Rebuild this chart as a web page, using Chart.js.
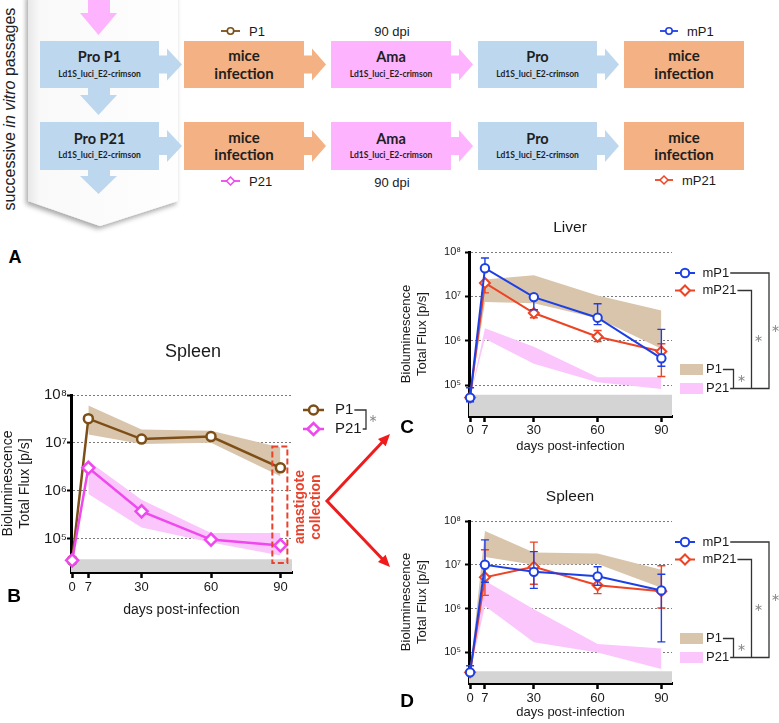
<!DOCTYPE html>
<html>
<head>
<meta charset="utf-8">
<title>Bioluminescence</title>
<script src="https://cdn.jsdelivr.net/npm/chart.js@4.4.1/dist/chart.umd.min.js"></script>
<style>
  html, body { margin: 0; padding: 0; background: #fff; }
  body { position: relative; width: 779px; height: 723px; overflow: hidden; font-family: Arial, "Liberation Sans", sans-serif; }
  .pane { position: absolute; }
  #flow { position: absolute; left: 0; top: 0; }
</style>
</head>
<body>
<svg id="flow" width="779" height="270"></svg>
<div class="pane" style="left:0;top:330px;width:400px;height:300px"><canvas id="chartB"></canvas></div>
<div class="pane" style="left:395px;top:200px;width:384px;height:260px"><canvas id="chartC"></canvas></div>
<div class="pane" style="left:395px;top:470px;width:384px;height:253px"><canvas id="chartD"></canvas></div>
<script>
// ---- datos ----
const days = [0, 7, 30, 60, 90];
const dayTicks = [0, 7, 30, 60, 90];
const decadeTicks = [1e5, 1e6, 1e7, 1e8];
const supDigits = ['⁰', '¹', '²', '³', '⁴', '⁵', '⁶', '⁷', '⁸', '⁹'];

// B: bazo, primera infeccion (P1 / P21), media y banda
const bP1    = [3.5e4, 3.2e7, 1.2e7, 1.35e7, 3.0e6];
const bP1Lo  = [null, 1.5e7, 9.5e6, 1.0e7, 2.0e6];
const bP1Hi  = [null, 6.0e7, 1.9e7, 1.8e7, 8.0e6];
const bP21   = [3.5e4, 3.0e6, 3.7e5, 9.5e4, 7.2e4];
const bP21Lo = [null, 8.5e5, 1.7e5, 8.3e4, 4.4e4];
const bP21Hi = [null, 4.2e6, 6.5e5, 1.3e5, 1.3e5];
const bBase  = 3.7e4;
const collectDays = [86.5, 93];
const collectFlux = [3.1e4, 8.4e6];

// C: higado, reinfeccion (mP1 / mP21) + bandas P1 / P21
const cMP1    = [5.2e4, 4.3e7, 9.6e6, 3.3e6, 4.0e5];
const cMP1Lo  = [4.2e4, null, 5.0e6, 2.3e6, 2.65e5];
const cMP1Hi  = [8.7e4, 7.3e7, null, 6.8e6, 1.8e6];
const cMP21   = [5.2e4, 2.0e7, 4.2e6, 1.23e6, 5.7e5];
const cMP21Lo = [null, 1.2e7, 3.3e6, 9.5e5, 1.55e5];
const cMP21Hi = [null, null, 5.0e6, 1.7e6, 8.5e5];
const cP1Lo   = [5.2e4, 7.5e6, 7.0e6, 3.2e6, 6.6e5];
const cP1Hi   = [5.2e4, 2.4e7, 3.0e7, 1.05e7, 4.8e6];
const cP21Lo  = [5.2e4, 1.1e6, 3.0e5, 1.15e5, 8.1e4];
const cP21Hi  = [5.2e4, 1.9e6, 7.3e5, 1.5e5, 1.5e5];
const cBase   = 6.0e4;

// D: bazo, reinfeccion
const dMP1    = [3.5e4, 1.0e7, 6.9e6, 5.45e6, 2.6e6];
const dMP1Lo  = [null, 4.0e6, 2.9e6, 3.4e6, 1.74e5];
const dMP1Hi  = [4.96e4, 3.7e7, 2.0e7, 9.0e6, 6.1e6];
const dMP21   = [3.5e4, 5.2e6, 9.0e6, 3.4e6, 2.5e6];
const dMP21Lo = [null, 2.0e6, 3.6e6, 2.2e6, 1.03e6];
const dMP21Hi = [null, 2.2e7, 3.3e7, 5.2e6, 9.5e6];
const dP1Lo   = [3.5e4, 1.5e7, 1.0e7, 1.04e7, 3.0e6];
const dP1Hi   = [3.5e4, 5.9e7, 1.9e7, 1.8e7, 7.7e6];
const dP21Lo  = [3.5e4, 1.15e6, 1.7e5, 1.0e5, 4.2e4];
const dP21Hi  = [3.5e4, 4.3e6, 9.6e5, 1.55e5, 1.23e5];
const dBase   = 3.7e4;

// ---- colores ----
const ink = '#1a1a1a';
const colP1 = '#7d4e16', colP21 = '#ee48ee', colMP1 = '#1d3fe6', colMP21 = '#ec4424';
const bandP1 = '#d9c5ab', bandP21 = '#fbc6fb', gris = '#d4d4d4';
const rojoTxt = '#e8412c', rojo = '#ee1c1c';

Chart.defaults.font.family = 'Arial, "Liberation Sans", sans-serif';
Chart.defaults.color = ink;

// ---- diagrama de flujo (svg) ----
const azul = '#bdd7ee', naranja = '#f4b183', rosa = '#fdb3fd';
const cols = [[40, 159, azul], [184, 304, naranja], [331, 451, rosa], [478, 597, azul], [624, 744, naranja]];
const tips = [182, 326, 473, 619];
const rows = [{ y: 41, h: 47 }, { y: 122, h: 48 }];
const sub = 'Ld1S_luci_E2-crimson';
const etiquetas = [
  [['Pro P1', sub], ['mice', 'infection'], ['Ama', sub], ['Pro', sub], ['mice', 'infection']],
  [['Pro P21', sub], ['mice', 'infection'], ['Ama', sub], ['Pro', sub], ['mice', 'infection']]
];

let s = '<defs>' +
  '<filter id="sh" x="-30%" y="-10%" width="160%" height="130%"><feDropShadow dx="-2" dy="3" stdDeviation="2.5" flood-color="#000" flood-opacity="0.35"/></filter>' +
  '<linearGradient id="chev" x1="0" x2="1" y1="0" y2="0"><stop offset="0" stop-color="#e8e8e8"/><stop offset="0.08" stop-color="#f9f9f9"/><stop offset="1" stop-color="#fefefe"/></linearGradient>' +
  '</defs>';
s += '<polygon points="28,-6 178,-6 178,201 100,226 28,201" fill="url(#chev)" filter="url(#sh)"/>';
s += '<text transform="translate(9,109) rotate(-90)" text-anchor="middle" dominant-baseline="central" font-family="Arial, Liberation Sans" font-size="16" fill="#222">successive <tspan font-style="italic">in vitro</tspan> passages</text>';

function flechaAbajo(y0, ys, yt, color) {
  return `<polygon points="88,${y0} 110,${y0} 110,${ys} 117,${ys} 98.5,${yt} 80,${ys} 88,${ys}" fill="${color}"/>`;
}
s += flechaAbajo(0, 13, 35, rosa);
s += flechaAbajo(88, 95, 115, azul);
s += flechaAbajo(170, 176, 194, azul);

rows.forEach((r, ri) => {
  const cy = r.y + r.h / 2;
  cols.forEach((c, ci) => {
    s += `<rect x="${c[0]}" y="${r.y}" width="${c[1] - c[0]}" height="${r.h}" fill="${c[2]}"/>`;
    const cx = (c[0] + c[1]) / 2;
    const t = etiquetas[ri][ci];
    if (t[1] === 'infection') {
      s += `<text x="${cx}" y="${cy - 9.5}" text-anchor="middle" dominant-baseline="central" font-family="Lato" font-weight="bold" font-size="15" fill="#1f1f1f">${t[0]}</text>`;
      s += `<text x="${cx}" y="${cy + 8}" text-anchor="middle" dominant-baseline="central" font-family="Lato" font-weight="bold" font-size="15" fill="#1f1f1f">${t[1]}</text>`;
    } else {
      s += `<text x="${cx}" y="${cy - 8}" text-anchor="middle" dominant-baseline="central" font-family="Lato" font-weight="bold" font-size="14.5" fill="#1f1f1f">${t[0]}</text>`;
      s += `<text x="${cx}" y="${cy + 9}" text-anchor="middle" dominant-baseline="central" font-family="Lato" font-weight="bold" font-size="8.5" fill="#1f1f1f">${t[1]}</text>`;
    }
    if (ci < tips.length) {
      const x0 = c[1], xs = c[1] + 8, xt = tips[ci];
      s += `<polygon points="${x0},${cy - 9} ${xs},${cy - 9} ${xs},${cy - 16} ${xt},${cy} ${xs},${cy + 16} ${xs},${cy + 9} ${x0},${cy + 9}" fill="${c[2]}"/>`;
    }
  });
});

function marcaSvg(x1, x2, xm, y, color, forma) {
  let m = `<line x1="${x1}" y1="${y}" x2="${x2}" y2="${y}" stroke="${color}" stroke-width="1.8"/>`;
  if (forma === 'circle') m += `<circle cx="${xm}" cy="${y}" r="3.2" fill="#fff" stroke="${color}" stroke-width="1.6"/>`;
  else m += `<polygon points="${xm},${y - 4} ${xm + 4},${y} ${xm},${y + 4} ${xm - 4},${y}" fill="#fff" stroke="${color}" stroke-width="1.5"/>`;
  return m;
}
function txt(x, y, t, anchor) {
  return `<text x="${x}" y="${y}" text-anchor="${anchor || 'start'}" dominant-baseline="central" font-family="Arial, Liberation Sans" font-size="13" fill="#1a1a1a">${t}</text>`;
}
s += marcaSvg(221, 240, 230.5, 31, colP1, 'circle') + txt(249, 31, 'P1');
s += txt(392, 31, '90 dpi', 'middle');
s += marcaSvg(660, 678, 669, 31, colMP1, 'circle') + txt(687, 31, 'mP1');
s += marcaSvg(221, 240, 230.5, 181, colP21, 'diamond') + txt(249, 181, 'P21');
s += txt(392, 182, '90 dpi', 'middle');
s += marcaSvg(655, 673, 664, 180, colMP21, 'diamond') + txt(682, 180, 'mP21');
s += '<text x="15" y="257" text-anchor="middle" dominant-baseline="central" font-family="Arial, Liberation Sans" font-weight="bold" font-size="18" fill="#000">A</text>';
document.getElementById('flow').innerHTML = s;

// ---- ayudas para las graficas ----
function puntos(vals) {
  return days.map((d, i) => ({ x: d, y: vals[i] })).filter(p => p.y !== null);
}
function serie(label, vals, color, forma, radio, ancho, lo, hi, order) {
  return {
    label, data: puntos(vals), borderColor: color, borderWidth: ancho, tension: 0, fill: false,
    pointStyle: forma, pointRadius: radio, pointBorderWidth: ancho, pointBorderColor: color,
    pointBackgroundColor: '#fff', backgroundColor: '#fff', clip: false, order, errLo: lo, errHi: hi
  };
}
function banda(label, lo, hi, color) {
  return [
    { label: label + ' hi', data: puntos(hi), borderWidth: 0, pointRadius: 0, fill: '+1', backgroundColor: color, order: 5 },
    { label: label + ' lo', data: puntos(lo), borderWidth: 0, pointRadius: 0, fill: false, order: 5 }
  ];
}
function fondo(valor) {
  return { label: 'base', data: [{ x: -0.5, y: valor }, { x: 95, y: valor }], borderWidth: 0, pointRadius: 0,
    fill: 'start', backgroundColor: gris, order: 9 };
}
function texto(ctx, t, x, y, font, color, align) {
  ctx.font = font; ctx.fillStyle = color; ctx.textAlign = align || 'left'; ctx.textBaseline = 'middle';
  ctx.fillText(t, x, y);
  return ctx.measureText(t).width;
}
function estrella(ctx, x, y) {
  texto(ctx, '∗', x, y, '11px "DejaVu Sans"', '#8c8c8c', 'center');
}
function marcaLinea(ctx, x1, x2, y, color, forma, radio, ancho) {
  ctx.strokeStyle = color; ctx.lineWidth = ancho;
  ctx.beginPath(); ctx.moveTo(x1, y); ctx.lineTo(x2, y); ctx.stroke();
  ctx.fillStyle = '#fff';
  Chart.helpers.drawPoint(ctx, { pointStyle: forma, radius: radio, borderWidth: ancho, rotation: 0 }, (x1 + x2) / 2, y);
}

// barras de error (solo series con errLo/errHi)
const barrasError = {
  id: 'barrasError',
  beforeDatasetDraw(chart, args) {
    const ds = chart.data.datasets[args.index];
    if (!ds.errLo) return;
    const ctx = chart.ctx, sx = chart.scales.x, sy = chart.scales.y;
    ctx.save();
    ctx.strokeStyle = ds.borderColor; ctx.lineWidth = 1.4; ctx.setLineDash([]);
    ds.data.forEach((p, i) => {
      const x = sx.getPixelForValue(p.x), yc = sy.getPixelForValue(p.y);
      [ds.errLo[i], ds.errHi[i]].forEach(v => {
        if (v == null) return;
        const y = sy.getPixelForValue(v);
        ctx.beginPath();
        ctx.moveTo(x, yc); ctx.lineTo(x, y);
        ctx.moveTo(x - 4, y); ctx.lineTo(x + 4, y);
        ctx.stroke();
      });
    });
    ctx.restore();
  }
};
Chart.register(barrasError);

function opciones(o) {
  return {
    responsive: true, maintainAspectRatio: false, animation: false,
    layout: { padding: { top: o.top, right: o.right, left: 0, bottom: 0 } },
    plugins: { legend: { display: false }, tooltip: { enabled: false }, title: { display: false } },
    scales: {
      x: {
        type: 'linear', min: -0.5, max: 95,
        afterBuildTicks: sc => { sc.ticks = dayTicks.map(v => ({ value: v })); },
        afterFit: sc => { sc.height = o.xh; },
        grid: { drawOnChartArea: false, drawTicks: true, tickLength: 6, tickColor: '#000', tickWidth: 2.5, tickBorderDash: [] },
        border: { color: '#000', width: 3 },
        ticks: { font: { size: o.fx }, padding: o.xPad, maxRotation: 0, autoSkip: false, color: ink, callback: v => String(v) },
        title: { display: true, text: 'days post-infection', font: { size: o.fl }, color: ink, padding: { top: 0, bottom: o.xTitle } }
      },
      y: {
        type: 'logarithmic', min: 2e4, max: 1e8,
        afterBuildTicks: sc => { sc.ticks = decadeTicks.map(v => ({ value: v })); },
        afterFit: sc => { sc.width = o.yw; },
        grid: { color: '#7a7a7a', lineWidth: 1, tickColor: '#000', tickWidth: 2, tickLength: 4, tickBorderDash: [] },
        border: { color: '#000', width: 3, dash: [2, 2] },
        ticks: { font: { size: o.fy }, padding: o.yPad, color: ink,
          callback: v => '10' + supDigits[Math.round(Math.log10(v))] },
        title: { display: true, text: ['Bioluminescence', 'Total Flux [p/s]'], font: { size: o.fl, lineHeight: 1.2 },
          color: ink, padding: { top: o.yTitle, bottom: 0 } }
      }
    }
  };
}

// ---- B ----
const decoB = {
  id: 'decoB',
  afterDraw(chart) {
    const ctx = chart.ctx, a = chart.chartArea, sx = chart.scales.x, sy = chart.scales.y;
    ctx.save();
    texto(ctx, 'Spleen', 193, 22, '18px Arial', ink, 'center');
    texto(ctx, 'B', 14, 267, 'bold 19px Arial', '#000', 'center');
    const y1 = a.top + 15, y2 = a.top + 34;
    marcaLinea(ctx, 303, 324, y1, colP1, 'circle', 4.5, 2.5);
    marcaLinea(ctx, 303, 324, y2, colP21, 'rectRot', 6, 2.5);
    const w1 = texto(ctx, 'P1', 335, y1, '15px Arial', ink);
    const w2 = texto(ctx, 'P21', 335, y2, '15px Arial', ink);
    ctx.strokeStyle = '#333'; ctx.lineWidth = 1.3;
    ctx.beginPath();
    ctx.moveTo(335 + w1 + 1, y1); ctx.lineTo(366, y1); ctx.lineTo(366, y2); ctx.lineTo(335 + w2 + 1, y2);
    ctx.stroke();
    estrella(ctx, 373, (y1 + y2) / 2);
    // recuadro de colecta de amastigotes
    const rx0 = sx.getPixelForValue(collectDays[0]), rx1 = sx.getPixelForValue(collectDays[1]);
    const ry0 = sy.getPixelForValue(collectFlux[1]), ry1 = sy.getPixelForValue(collectFlux[0]);
    ctx.setLineDash([6, 3]); ctx.strokeStyle = rojoTxt; ctx.lineWidth = 2;
    ctx.strokeRect(rx0, ry0, rx1 - rx0, ry1 - ry0);
    ctx.setLineDash([]);
    [['amastigote', 300], ['collection', 316]].forEach(([t, x]) => {
      ctx.save(); ctx.translate(x, 177); ctx.rotate(-Math.PI / 2);
      texto(ctx, t, 0, 0, 'bold 14px Arial', rojoTxt, 'center');
      ctx.restore();
    });
    // flechas rojas hacia C y D
    ctx.strokeStyle = rojo; ctx.fillStyle = rojo; ctx.lineWidth = 3; ctx.lineJoin = 'miter';
    const vx = 327, vy = 171, t1 = [390, 104], t2 = [390, 237];
    const corta = (t) => { const a2 = Math.atan2(t[1] - vy, t[0] - vx); return [t[0] - 9 * Math.cos(a2), t[1] - 9 * Math.sin(a2)]; };
    const e1 = corta(t1), e2 = corta(t2);
    ctx.beginPath(); ctx.moveTo(e1[0], e1[1]); ctx.lineTo(vx, vy); ctx.lineTo(e2[0], e2[1]); ctx.stroke();
    [t1, t2].forEach(t => {
      const ang = Math.atan2(t[1] - vy, t[0] - vx), h = 13;
      ctx.beginPath(); ctx.moveTo(t[0], t[1]);
      ctx.lineTo(t[0] - h * Math.cos(ang - 0.42), t[1] - h * Math.sin(ang - 0.42));
      ctx.lineTo(t[0] - h * Math.cos(ang + 0.42), t[1] - h * Math.sin(ang + 0.42));
      ctx.closePath(); ctx.fill();
    });
    ctx.restore();
  }
};

new Chart(document.getElementById('chartB'), {
  type: 'line',
  data: {
    datasets: [
      serie('P21', bP21, colP21, 'rectRot', 6, 2.5, null, null, 0),
      serie('P1', bP1, colP1, 'circle', 4.5, 2.5, null, null, 1),
      ...banda('P1', bP1Lo, bP1Hi, bandP1),
      ...banda('P21', bP21Lo, bP21Hi, bandP21),
      fondo(bBase)
    ]
  },
  options: opciones({ top: 65, right: 108, xh: 58, yw: 71, fx: 13, fy: 15, fl: 14, xPad: 2, yPad: 0, xTitle: 11.6, yTitle: 0 }),
  plugins: [decoB]
});

// ---- C y D ----
function decoCD(titulo, letra, letraY) {
  return {
    id: 'deco' + letra,
    afterDraw(chart) {
      const ctx = chart.ctx, T = chart.chartArea.top;
      ctx.save();
      texto(ctx, titulo, 175, T - 24, '15.5px Arial', ink, 'center');
      texto(ctx, letra, 12, letraY, 'bold 19px Arial', '#000', 'center');
      const yA = T + 21, yB = T + 38.5, yC = T + 117.5, yD = T + 136.5;
      marcaLinea(ctx, 280, 300, yA, colMP1, 'circle', 4.2, 2);
      marcaLinea(ctx, 280, 300, yB, colMP21, 'rectRot', 5, 2);
      ctx.fillStyle = bandP1; ctx.fillRect(285, yC - 5.5, 23, 11);
      ctx.fillStyle = bandP21; ctx.fillRect(285, yD - 5.5, 23, 11);
      const wA = texto(ctx, 'mP1', 307.5, yA, '13px Arial', ink);
      const wB = texto(ctx, 'mP21', 307.5, yB, '13px Arial', ink);
      const wC = texto(ctx, 'P1', 311, yC, '13px Arial', ink);
      const wD = texto(ctx, 'P21', 311, yD, '13px Arial', ink);
      ctx.strokeStyle = '#333'; ctx.lineWidth = 1.3;
      ctx.beginPath();
      ctx.moveTo(307.5 + wA + 1, yA); ctx.lineTo(374, yA); ctx.lineTo(374, yD); ctx.lineTo(311 + wD + 1, yD);
      ctx.moveTo(307.5 + wB + 1, yB); ctx.lineTo(356.5, yB); ctx.lineTo(356.5, yD);
      ctx.moveTo(311 + wC + 1, yC); ctx.lineTo(338.5, yC); ctx.lineTo(338.5, yD);
      ctx.stroke();
      estrella(ctx, 346.5, (yC + yD) / 2);
      estrella(ctx, 363.5, T + 87);
      estrella(ctx, 380.5, T + 77);
      ctx.restore();
    }
  };
}

new Chart(document.getElementById('chartC'), {
  type: 'line',
  data: {
    datasets: [
      serie('mP1', cMP1, colMP1, 'circle', 4.2, 2, cMP1Lo, cMP1Hi, 0),
      serie('mP21', cMP21, colMP21, 'rectRot', 5, 2, cMP21Lo, cMP21Hi, 1),
      ...banda('P1', cP1Lo, cP1Hi, bandP1),
      ...banda('P21', cP21Lo, cP21Hi, bandP21),
      fondo(cBase)
    ]
  },
  options: opciones({ top: 52, right: 107, xh: 44, yw: 74, fx: 13, fy: 11, fl: 13, xPad: 1, yPad: 4, xTitle: 6.2, yTitle: 4 }),
  plugins: [decoCD('Liver', 'C', 227.5)]
});

new Chart(document.getElementById('chartD'), {
  type: 'line',
  data: {
    datasets: [
      serie('mP1', dMP1, colMP1, 'circle', 4.2, 2, dMP1Lo, dMP1Hi, 0),
      serie('mP21', dMP21, colMP21, 'rectRot', 5, 2, dMP21Lo, dMP21Hi, 1),
      ...banda('P1', dP1Lo, dP1Hi, bandP1),
      ...banda('P21', dP21Lo, dP21Hi, bandP21),
      fondo(dBase)
    ]
  },
  options: opciones({ top: 51, right: 107, xh: 40, yw: 74, fx: 13, fy: 11, fl: 13, xPad: 2, yPad: 4, xTitle: 3.2, yTitle: 4 }),
  plugins: [decoCD('Spleen', 'D', 231.7)]
});
</script>
</body>
</html>
